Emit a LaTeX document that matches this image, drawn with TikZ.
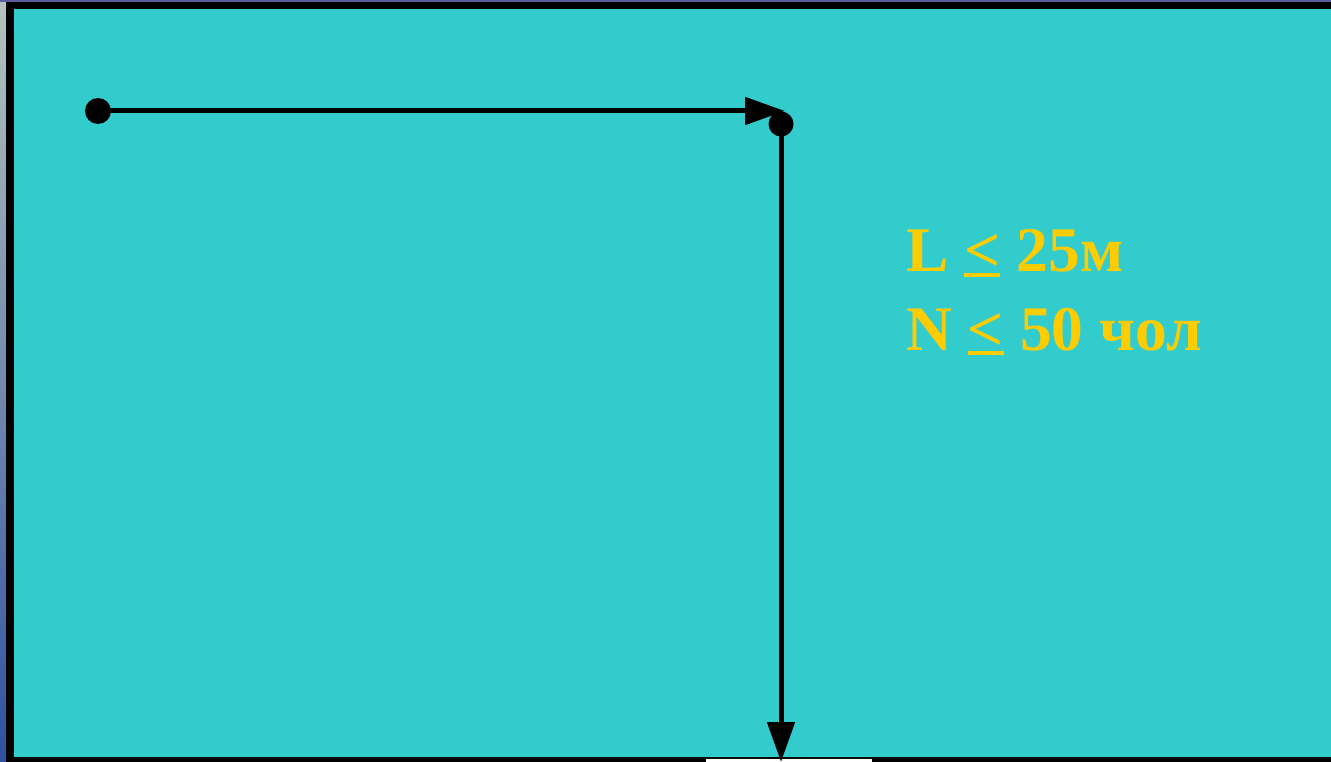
\documentclass[tikz,border=0pt]{standalone}
\usepackage{fontspec}
\setmainfont{Liberation Serif}
\usetikzlibrary{arrows.meta}
\definecolor{pool}{HTML}{33CCCC}
\definecolor{gold}{HTML}{FFCC00}
\definecolor{edgetop}{HTML}{B4C4BC}
\definecolor{edgebot}{HTML}{3050A0}
\definecolor{topstrip}{HTML}{5C5CA0}
\newcommand{\ulless}{\rlap{\raisebox{-0.085em}{\rule{0.56em}{0.065em}}}<}
\tikzset{
  dot/.style={circle,fill=black,inner sep=0pt,minimum size=#1},
  conn/.style={line width=5pt,-{Triangle[length=40pt,width=27pt]}},
  lbl/.style={text=gold,font=\fontsize{63.5}{78}\selectfont\bfseries,anchor=base west,inner sep=0pt}
}
\begin{document}
\begin{tikzpicture}[x=1pt,y=-1pt]
\useasboundingbox (0,0) rectangle (1331,762);
% background edges
\shade[top color=edgetop,bottom color=edgebot] (0,0) rectangle (6,762);
\fill[topstrip] (0,0) rectangle (1331,2.5);
% frame
\fill[black] (6,2.5) rectangle (1331,762);
\fill[pool] (14,9) rectangle (1331,757);
\fill[white] (706,758.5) rectangle (872,762);
% nodes
\node[dot=26pt] (a) at (98,111) {};
\node[dot=25pt] (b) at (781,124) {};
\coordinate (hend) at (785,111);
\coordinate (vend) at (781,762);
\draw[conn] (a.center) -- (hend);
\draw[conn] (b.center) -- (vend);
% labels
\node[lbl] (t1) at (906,272) {L \ulless{} 25м};
\node[lbl] (t2) at (906,350) {N \ulless{} 50 чол};
\end{tikzpicture}
\end{document}
